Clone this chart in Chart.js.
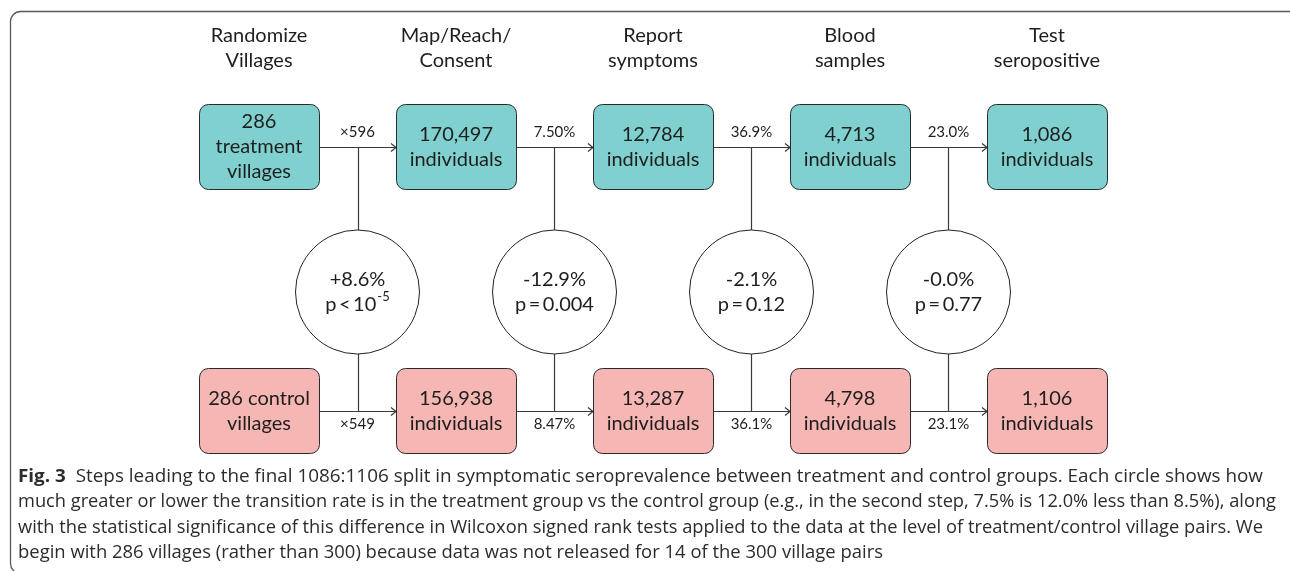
<!DOCTYPE html>
<html>
<head>
<meta charset="utf-8">
<script src="https://cdn.jsdelivr.net/npm/chart.js@4"></script>
<style>
  html, body { margin: 0; padding: 0; background: #fff; }
  canvas { display: block; }
</style>
</head>
<body>
<canvas id="c" width="1290" height="571"></canvas>
<script>
// ---------- data ----------
const steps = ['Randomize\nVillages', 'Map/Reach/\nConsent', 'Report\nsymptoms', 'Blood\nsamples', 'Test\nseropositive'];
const treatmentCounts = [286, 170497, 12784, 4713, 1086];
const controlCounts = [286, 156938, 13287, 4798, 1106];
const treatmentUnits = ['treatment\nvillages', 'individuals', 'individuals', 'individuals', 'individuals'];
const controlUnits = ['control\nvillages', 'individuals', 'individuals', 'individuals', 'individuals'];
const treatmentRates = ['×596', '7.50%', '36.9%', '23.0%'];
const controlRates = ['×549', '8.47%', '36.1%', '23.1%'];
const rateDiffs = ['+8.6%', '-12.9%', '-2.1%', '-0.0%'];
const pValues = [['p\u2009<\u200910', '-5'], ['p\u2009=\u20090.004', ''], ['p\u2009=\u20090.12', ''], ['p\u2009=\u20090.77', '']];
const captionBold = 'Fig. 3';
const captionLines = [
  'Steps leading to the final 1086:1106 split in symptomatic seroprevalence between treatment and control groups. Each circle shows how',
  'much greater or lower the transition rate is in the treatment group vs the control group (e.g., in the second step, 7.5% is 12.0% less than 8.5%), along',
  'with the statistical significance of this difference in Wilcoxon signed rank tests applied to the data at the level of treatment/control village pairs. We',
  'begin with 286 villages (rather than 300) because data was not released for 14 of the 300 village pairs'
];
const captionEnds = [1263, 1276, 1263, 883];

// ---------- layout / style ----------
const W = 1290, H = 571;
const COL0 = 259, COLSTEP = 197;
const ROW_T = 147, ROW_C = 411, ROWSTEP = ROW_C - ROW_T;
const XMIN = -COL0 / COLSTEP, XMAX = XMIN + W / COLSTEP;
const YMAX = 1 + ROW_T / ROWSTEP, YMIN = -(H - ROW_C) / ROWSTEP;
const TREAT_ROW = 1, CTRL_ROW = 0, CIRCLE_ROW = (ROW_C - 292) / ROWSTEP;
const BOX_HW = 60, BOX_HH = 42.5, BOX_R = 9;
const TEAL = '#80d0d0', PINK = '#f5b6b4', LINE = '#3a3a3a', INK = '#1e1e1e';
const DFONT = 'Lato, "Open Sans", sans-serif';
const CFONT = '"Open Sans", "Noto Sans", sans-serif';

function fmt(n) { return n.toLocaleString('en-US'); }

function rrect(ctx, x, y, w, h, r) {
  ctx.beginPath();
  ctx.moveTo(x + r, y);
  ctx.lineTo(x + w - r, y);
  ctx.arcTo(x + w, y, x + w, y + r, r);
  ctx.lineTo(x + w, y + h - r);
  ctx.arcTo(x + w, y + h, x + w - r, y + h, r);
  ctx.lineTo(x + r, y + h);
  ctx.arcTo(x, y + h, x, y + h - r, r);
  ctx.lineTo(x, y + r);
  ctx.arcTo(x, y, x + r, y, r);
  ctx.closePath();
}

function lines(ctx, text, x, yc, lh) {
  const arr = text.split('\n');
  const y0 = yc - (arr.length - 1) * lh / 2;
  arr.forEach((t, k) => ctx.fillText(t, x, y0 + k * lh));
}

const diagramPlugin = {
  id: 'diagram',
  beforeDatasetsDraw(chart) {
    const ctx = chart.ctx;
    const xs = chart.scales.x, ys = chart.scales.y;
    const px = v => xs.getPixelForValue(v);
    const py = v => ys.getPixelForValue(v);
    const yT = py(TREAT_ROW), yC = py(CTRL_ROW);
    ctx.save();
    // frame
    ctx.strokeStyle = '#5a5a5a';
    ctx.lineWidth = 1.3;
    rrect(ctx, 10.5, 11.5, 1300, 562, 10);
    ctx.stroke();

    // headers
    ctx.fillStyle = INK;
    ctx.textAlign = 'center';
    ctx.textBaseline = 'middle';
    ctx.font = '20px ' + DFONT;
    steps.forEach((s, i) => lines(ctx, s, px(i), yT - 99, 25));

    // vertical connectors
    ctx.strokeStyle = LINE;
    ctx.lineWidth = 1.2;
    for (let i = 0; i < steps.length - 1; i++) {
      const x = Math.round(px(i + 0.5)) + 0.5;
      ctx.beginPath();
      ctx.moveTo(x, yT);
      ctx.lineTo(x, yC);
      ctx.stroke();
    }
    // horizontal arrows
    [yT, yC].forEach(y0 => {
      const y = Math.round(y0) + 0.5;
      for (let i = 0; i < steps.length - 1; i++) {
        const x1 = px(i) + BOX_HW, x2 = px(i + 1) - BOX_HW;
        ctx.beginPath();
        ctx.moveTo(x1, y);
        ctx.lineTo(x2, y);
        ctx.stroke();
        ctx.beginPath();
        ctx.moveTo(x2 - 5, y - 4);
        ctx.lineTo(x2, y);
        ctx.lineTo(x2 - 5, y + 4);
        ctx.stroke();
      }
    });
    // rate labels
    ctx.fillStyle = INK;
    ctx.font = '15px ' + DFONT;
    treatmentRates.forEach((r, i) => ctx.fillText(r, px(i + 0.5), yT - 15));
    controlRates.forEach((r, i) => ctx.fillText(r, px(i + 0.5), yC + 13));

    // boxes
    const drawBox = (i, y, fill, label) => {
      const x = px(i);
      ctx.fillStyle = fill;
      rrect(ctx, x - BOX_HW + 0.5, y - BOX_HH, BOX_HW * 2, BOX_HH * 2, BOX_R);
      ctx.fill();
      ctx.strokeStyle = '#2a2a2a';
      ctx.lineWidth = 1;
      ctx.stroke();
      ctx.fillStyle = INK;
      ctx.font = '20px ' + DFONT;
      lines(ctx, label, x, y, 25);
    };
    treatmentCounts.forEach((n, i) => {
      drawBox(i, yT, TEAL, fmt(n) + '\n' + treatmentUnits[i]);
    });
    controlCounts.forEach((n, i) => {
      const u = controlUnits[i].split('\n');
      const label = u.length > 1 ? fmt(n) + ' ' + u[0] + '\n' + u[1] : fmt(n) + '\n' + u[0];
      drawBox(i, yC, PINK, label);
    });
    ctx.restore();
  },
  afterDatasetsDraw(chart) {
    const ctx = chart.ctx;
    const xs = chart.scales.x, ys = chart.scales.y;
    const px = v => xs.getPixelForValue(v);
    const py = v => ys.getPixelForValue(v);
    ctx.save();
    ctx.fillStyle = INK;
    ctx.textBaseline = 'middle';
    const yc = py(CIRCLE_ROW);
    rateDiffs.forEach((d, i) => {
      const x = px(i + 0.5);
      ctx.textAlign = 'center';
      ctx.font = '20px ' + DFONT;
      ctx.fillText(d, x, yc - 12);
      const [base, sup] = pValues[i];
      if (sup) {
        const wb = ctx.measureText(base).width;
        ctx.font = '13px ' + DFONT;
        const ws = ctx.measureText(sup).width;
        const left = x - (wb + ws + 1) / 2;
        ctx.textAlign = 'left';
        ctx.font = '20px ' + DFONT;
        ctx.fillText(base, left, yc + 13);
        ctx.font = '13px ' + DFONT;
        ctx.fillText(sup, left + wb + 1, yc + 5);
      } else {
        ctx.fillText(base, x, yc + 13);
      }
    });

    // caption
    ctx.textAlign = 'left';
    ctx.textBaseline = 'alphabetic';
    ctx.fillStyle = '#2c2c2c';
    const x0 = 18;
    const baselines = [481.5, 507, 532.5, 558];
    captionLines.forEach((t, k) => {
      ctx.font = '18px ' + CFONT;
      let prefixW = 0;
      let boldW = 0;
      if (k === 0) {
        ctx.font = 'bold 18px ' + CFONT;
        boldW = ctx.measureText(captionBold).width;
        ctx.font = '18px ' + CFONT;
        prefixW = boldW + ctx.measureText('  ').width;
      }
      const tw = prefixW + ctx.measureText(t).width;
      const sc = (captionEnds[k] - x0) / tw;
      ctx.save();
      ctx.translate(x0, baselines[k]);
      ctx.scale(sc, 1);
      if (k === 0) {
        ctx.font = 'bold 18px ' + CFONT;
        ctx.fillText(captionBold, 0, 0);
        ctx.font = '18px ' + CFONT;
      }
      ctx.fillText(t, prefixW, 0);
      ctx.restore();
    });
    ctx.restore();
  }
};

new Chart(document.getElementById('c'), {
  type: 'scatter',
  data: {
    datasets: [{
      data: rateDiffs.map((d, i) => ({ x: i + 0.5, y: CIRCLE_ROW })),
      pointRadius: 62,
      pointHoverRadius: 62,
      backgroundColor: '#ffffff',
      borderColor: '#222222',
      borderWidth: 1,
      hoverBorderWidth: 1
    }]
  },
  options: {
    responsive: false,
    animation: false,
    events: [],
    layout: { padding: 0, autoPadding: false },
    scales: {
      x: { type: 'linear', display: false, min: XMIN, max: XMAX },
      y: { type: 'linear', display: false, min: YMIN, max: YMAX }
    },
    plugins: { legend: { display: false }, tooltip: { enabled: false } }
  },
  plugins: [diagramPlugin]
});
</script>
</body>
</html>
